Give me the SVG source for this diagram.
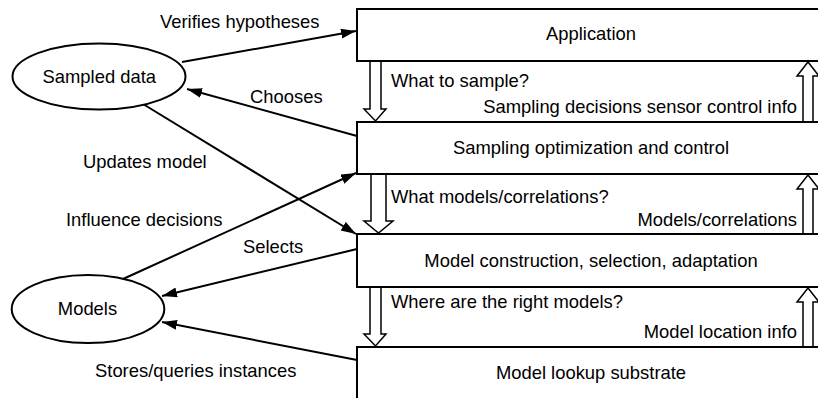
<svg xmlns="http://www.w3.org/2000/svg" width="818" height="398" viewBox="0 0 818 398">
<defs>
<style>
text{font-family:"Liberation Sans",Arial,Helvetica,sans-serif;font-size:18.4px;fill:#000}
.box{fill:#fff;stroke:#000;stroke-width:2}
.ell{fill:#fff;stroke:#000;stroke-width:2}
.blk{fill:#fff;stroke:#000;stroke-width:1.5;stroke-linejoin:miter}
.con{fill:none;stroke:#000;stroke-width:2;marker-end:url(#ah)}
.mid{text-anchor:middle}
.end{text-anchor:end}
</style>
<marker id="ah" markerUnits="userSpaceOnUse" markerWidth="16" markerHeight="12" refX="15" refY="5" orient="auto">
<path d="M0,0 L15,5 L0,10 Z" fill="#000"/>
</marker>
</defs>
<rect width="818" height="398" fill="#fff"/>

<g id="connectors">
<line class="con" x1="182" y1="62" x2="356" y2="31"/>
<line class="con" x1="357" y1="136" x2="187" y2="89"/>
<line class="con" x1="143" y1="104" x2="356" y2="234"/>
<line class="con" x1="123" y1="279" x2="356" y2="173"/>
<line class="con" x1="357" y1="249" x2="162" y2="296"/>
<line class="con" x1="357" y1="360" x2="162" y2="322"/>
<polygon class="blk" points="370,61 381,61 381,109 386,109 375.5,121 364,109 370,109"/>
<polygon class="blk" points="371,174 386,174 386,221 393,221 378.5,233 364,221 371,221"/>
<polygon class="blk" points="370,287 381,287 381,334 386,334 375.5,346 364,334 370,334"/>
<polygon class="blk" points="803,122 803,76 797,76 808,62 819,76 813,76 813,122"/>
<polygon class="blk" points="803,234 803,189 797,189 808,175 819,189 813,189 813,234"/>
<polygon class="blk" points="803,347 803,302 797,302 808,288 819,302 813,302 813,347"/>
</g>

<g id="labels">
<text x="160" y="28">Verifies hypotheses</text>
<text x="250" y="103">Chooses</text>
<text x="83" y="168">Updates model</text>
<text x="66" y="226">Influence decisions</text>
<text x="243" y="253">Selects</text>
<text x="95" y="377">Stores/queries instances</text>
<text x="391" y="87">What to sample?</text>
<text class="end" x="797" y="113">Sampling decisions sensor control info</text>
<text x="391" y="203">What models/correlations?</text>
<text class="end" x="797" y="226">Models/correlations</text>
<text x="391" y="308">Where are the right models?</text>
<text class="end" x="797" y="338">Model location info</text>
</g>

<g id="sampled-data">
<ellipse class="ell" cx="99" cy="76.5" rx="86.5" ry="33"/>
<text class="mid" x="99.3" y="83">Sampled data</text>
</g>
<g id="models">
<ellipse class="ell" cx="88" cy="309" rx="76.3" ry="34"/>
<text class="mid" x="87.5" y="315">Models</text>
</g>
<g id="application">
<rect class="box" x="357" y="9" width="470" height="52"/>
<text class="mid" x="591" y="40">Application</text>
</g>
<g id="sampling-optimization">
<rect class="box" x="357" y="122" width="470" height="52"/>
<text class="mid" x="591" y="154">Sampling optimization and control</text>
</g>
<g id="model-construction">
<rect class="box" x="357" y="234" width="470" height="53"/>
<text class="mid" x="591" y="267">Model construction, selection, adaptation</text>
</g>
<g id="model-lookup">
<rect class="box" x="357" y="347" width="470" height="60"/>
<text class="mid" x="591" y="379">Model lookup substrate</text>
</g>
</svg>
